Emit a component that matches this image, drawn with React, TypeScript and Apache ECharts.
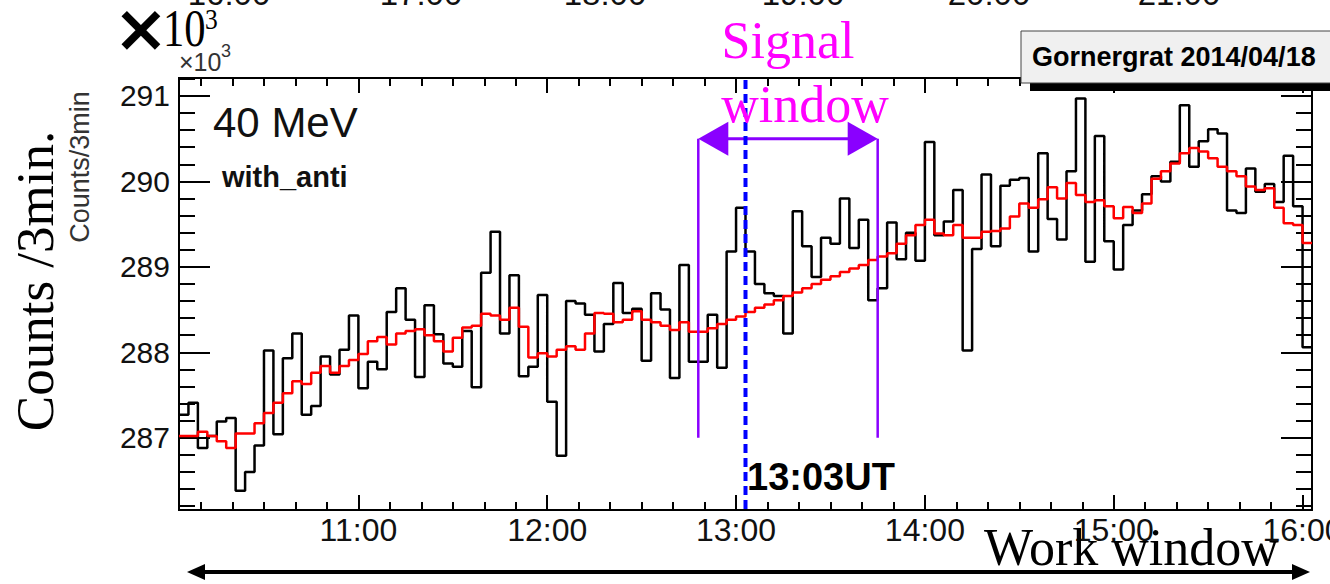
import React, { useEffect, useRef } from "react";
import * as echarts from "echarts";

// x: minutes after 10:00 UT, 3-minute bins starting at 10:03
const BIN_START_MIN = 3;
const BIN_WIDTH_MIN = 3;
const X_MIN = 3;
const X_MAX = 363;
// y: counts per 3 min, in units of 10^3
const Y_MIN = 286.154;
const Y_MAX = 291.21;

const COUNTS_K = [
  287.27, 287.41, 286.88, 287.02, 287.19, 287.23, 286.38, 286.60, 286.91, 288.02,
  287.04, 287.93, 288.22, 287.27, 287.37, 287.95, 287.74, 288.03, 288.43, 287.58,
  287.89, 287.80, 288.47, 288.75, 288.38, 287.71, 288.55, 288.21, 287.87, 287.83,
  288.25, 287.59, 288.93, 289.41, 288.22, 288.90, 287.72, 287.83, 288.67, 287.42,
  286.79, 288.60, 288.57, 288.44, 288.01, 288.33, 288.81, 288.46, 288.51, 287.90,
  288.69, 288.50, 287.70, 289.02, 287.89, 287.89, 288.44, 287.82, 289.18, 289.69,
  289.18, 288.80, 288.69, 288.66, 288.22, 289.65, 289.24, 288.88, 289.34, 289.27,
  289.80, 289.22, 289.55, 288.61, 288.75, 289.52, 289.09, 289.40, 289.07, 290.46,
  289.37, 289.53, 289.90, 288.02, 289.21, 290.08, 289.24, 289.95, 290.02, 290.04,
  289.18, 290.33, 289.56, 289.32, 290.12, 290.97, 289.06, 290.53, 289.30, 288.97,
  289.49, 289.66, 289.85, 290.06, 290.00, 290.23, 290.89, 290.17, 290.47, 290.61,
  290.56, 289.66, 289.63, 290.15, 289.88, 289.97, 289.76, 290.30, 289.71, 288.06,
];

const FIT_K = [
  287.02, 287.02, 287.07, 287.02, 286.96, 286.88, 287.05, 287.05, 287.17, 287.29,
  287.41, 287.52, 287.66, 287.63, 287.76, 287.84, 287.76, 287.84, 287.91, 287.98,
  288.13, 288.18, 288.09, 288.22, 288.25, 288.27, 288.20, 288.13, 288.01, 288.17,
  288.29, 288.31, 288.45, 288.43, 288.38, 288.52, 288.30, 287.94, 287.99, 287.95,
  288.03, 288.07, 288.03, 288.22, 288.46, 288.45, 288.35, 288.38, 288.48, 288.38,
  288.35, 288.31, 288.26, 288.35, 288.24, 288.24, 288.28, 288.33, 288.38, 288.42,
  288.47, 288.52, 288.56, 288.61, 288.66, 288.70, 288.75, 288.80, 288.85, 288.89,
  288.94, 288.98, 289.02, 289.08, 289.12, 289.16, 289.27, 289.37, 289.49, 289.55,
  289.39, 289.37, 289.49, 289.34, 289.34, 289.41, 289.42, 289.45, 289.59, 289.74,
  289.69, 289.79, 289.93, 289.80, 289.98, 289.84, 289.76, 289.78, 289.71, 289.57,
  289.70, 289.63, 289.74, 290.03, 290.12, 290.21, 290.33, 290.39, 290.35, 290.27,
  290.17, 290.12, 290.06, 289.94, 289.90, 289.92, 289.69, 289.51, 289.49, 289.28,
];

const Y_TICKS = [287, 288, 289, 290, 291];
const X_TICKS = [60, 120, 180, 240, 300, 360];
const TOP_PANEL_LABELS = ["16:00", "17:00", "18:00", "19:00", "20:00", "21:00"];
const SIGNAL_WINDOW_MIN = [168, 225];
const SIGNAL_ARROW_K = 290.5;
const SIGNAL_BOTTOM_K = 287.0;
const EVENT_MIN = 183;
const EVENT_LABEL = "13:03UT";
const STATION_LABEL = "Gornergrat 2014/04/18";
const ENERGY_LABEL = "40 MeV";
const MODE_LABEL = "with_anti";

const X_MINOR: number[] = [];
for (let m = 10; m <= 360; m += 10) if (m % 60 !== 0) X_MINOR.push(m);
const Y_MINOR: number[] = [];
for (let i = 1431; i <= 1456; i++) if (i % 5 !== 0) Y_MINOR.push(i / 5);

const fmtTime = (m: number) => {
  const h = 10 + Math.floor(m / 60);
  const mm = Math.round(m % 60);
  return `${h}:${String(mm).padStart(2, "0")}`;
};

const hist = (vals: number[]) => {
  const d = vals.map((v, i) => [BIN_START_MIN + i * BIN_WIDTH_MIN, v]);
  d.push([BIN_START_MIN + vals.length * BIN_WIDTH_MIN, vals[vals.length - 1]]);
  return d;
};

const SANS = '"Liberation Sans", Arial, sans-serif';
const SERIF = '"Liberation Serif", "Times New Roman", serif';

const txt = (
  text: string,
  x: number,
  y: number,
  font: string,
  fill: string,
  align = "left",
  vAlign = "middle",
  rotation = 0,
  scaleX = 1
) => ({
  type: "text",
  x,
  y,
  rotation,
  scaleX,
  z: 100,
  silent: true,
  style: { text, font, fill, align, verticalAlign: vAlign, textAlign: align, textVerticalAlign: vAlign },
});

export default function App() {
  const ref = useRef<HTMLDivElement>(null);

  useEffect(() => {
    if (!ref.current) return;
    const chart = echarts.init(ref.current, null, { renderer: "svg" });

    const xAxisDef = (pos: string, ticks: number[], len: number, labels: boolean) => ({
      type: "value",
      position: pos,
      min: X_MIN,
      max: X_MAX,
      axisLine: { show: true, onZero: false, lineStyle: { color: "#000", width: 2 } },
      axisTick: { show: true, inside: true, length: len, customValues: ticks, lineStyle: { color: "#000", width: 2 } },
      axisLabel: labels
        ? { show: true, customValues: ticks, formatter: fmtTime, fontSize: 32, fontFamily: SANS, color: "#111", margin: 4 }
        : { show: false },
      splitLine: { show: false },
      minorTick: { show: false },
    });
    const yAxisDef = (pos: string, ticks: number[], len: number, labels: boolean) => ({
      type: "value",
      position: pos,
      min: Y_MIN,
      max: Y_MAX,
      axisLine: { show: true, onZero: false, lineStyle: { color: "#000", width: 2 } },
      axisTick: { show: true, inside: true, length: len, customValues: ticks, lineStyle: { color: "#000", width: 2 } },
      axisLabel: labels
        ? {
            show: true,
            customValues: ticks,
            formatter: (v: number) => String(Math.round(v)),
            fontSize: 30,
            fontFamily: SANS,
            color: "#111",
            margin: 9,
          }
        : { show: false },
      splitLine: { show: false },
      minorTick: { show: false },
    });

    const purple = "#8a00ff";

    const graphics: any[] = [];
    const topX = [229, 421, 605, 803, 989, 1179];
    TOP_PANEL_LABELS.forEach((t, i) => graphics.push(txt(t, topX[i], 10, `33px ${SANS}`, "#111", "center", "bottom")));
    // big x10^3
    graphics.push(txt("×", 141, 28, `bold 66px "DejaVu Sans", ${SANS}`, "#000", "center", "middle"));
    graphics.push(txt("10", 163, 29, `52px ${SERIF}`, "#000", "left", "middle", 0, 0.82));
    graphics.push(txt("3", 205, 19, `30px ${SERIF}`, "#000", "left", "middle", 0, 0.85));
    // small x10^3
    graphics.push(txt("×10", 179, 61.5, `25px ${SANS}`, "#333", "left", "middle"));
    graphics.push(txt("3", 221, 51, `18px ${SANS}`, "#333", "left", "middle"));
    // signal window text
    graphics.push(txt("Signal", 788, 40.5, `52px ${SERIF}`, "#ff00ff", "center", "middle"));
    graphics.push(txt("window", 805, 104.5, `52px ${SERIF}`, "#ff00ff", "center", "middle"));
    // station box
    graphics.push({ type: "rect", z: 99, silent: true, shape: { x: 1030, y: 39, width: 330, height: 52 }, style: { fill: "#000" } });
    graphics.push({
      type: "rect",
      z: 99,
      silent: true,
      shape: { x: 1021, y: 31, width: 330, height: 52 },
      style: { fill: "#f0f0f0", stroke: "#444", lineWidth: 1 },
    });
    graphics.push(txt(STATION_LABEL, 1032, 57, `bold 27px ${SANS}`, "#000", "left", "middle"));
    // panel labels
    graphics.push(txt(ENERGY_LABEL, 213, 122.4, `42px ${SANS}`, "#111", "left", "middle"));
    graphics.push(txt(MODE_LABEL, 222, 177, `bold 29px ${SANS}`, "#111", "left", "middle"));
    graphics.push(txt(EVENT_LABEL, 747, 476.5, `bold 38px ${SANS}`, "#000", "left", "middle"));
    // axis titles
    graphics.push(txt("Counts /3min.", 35, 281, `53px ${SERIF}`, "#000", "center", "middle", Math.PI / 2));
    graphics.push(txt("Counts/3min", 80, 167, `27px ${SANS}`, "#333", "center", "middle", Math.PI / 2));
    // work window
    graphics.push(txt("Work window", 984, 547.5, `52px ${SERIF}`, "#000", "left", "middle"));
    graphics.push({ type: "line", z: 100, silent: true, shape: { x1: 200, y1: 572, x2: 1297, y2: 572 }, style: { stroke: "#000", lineWidth: 4 } });
    graphics.push({
      type: "polygon",
      z: 100,
      silent: true,
      shape: { points: [[187, 572], [205, 564], [205, 580]] },
      style: { fill: "#000" },
    });
    graphics.push({
      type: "polygon",
      z: 100,
      silent: true,
      shape: { points: [[1310, 572], [1292, 564], [1292, 580]] },
      style: { fill: "#000" },
    });

    chart.setOption({
      animation: false,
      backgroundColor: "#fff",
      grid: { left: 179, top: 78, width: 1133, height: 432, containLabel: false, outerBoundsMode: "none" },
      xAxis: [
        xAxisDef("bottom", X_TICKS, 15, true),
        xAxisDef("bottom", X_MINOR, 8, false),
        xAxisDef("top", X_TICKS, 15, false),
        xAxisDef("top", X_MINOR, 8, false),
      ],
      yAxis: [
        yAxisDef("left", Y_TICKS, 31, true),
        yAxisDef("left", Y_MINOR, 16, false),
        yAxisDef("right", Y_TICKS, 31, false),
        yAxisDef("right", Y_MINOR, 16, false),
      ],
      series: [
        {
          type: "line",
          xAxisIndex: 0,
          yAxisIndex: 0,
          step: "end",
          data: hist(COUNTS_K),
          showSymbol: false,
          symbol: "none",
          silent: true,
          z: 3,
          lineStyle: { color: "#000", width: 2.5 },
        },
        {
          type: "line",
          xAxisIndex: 0,
          yAxisIndex: 0,
          step: "end",
          data: hist(FIT_K),
          showSymbol: false,
          symbol: "none",
          silent: true,
          z: 4,
          lineStyle: { color: "#ff0000", width: 2.5 },
        },
        {
          type: "custom",
          xAxisIndex: 0,
          yAxisIndex: 0,
          clip: false,
          silent: true,
          z: 5,
          data: [[EVENT_MIN, SIGNAL_ARROW_K]],
          renderItem: (_params: any, api: any) => {
            const [x0, yTop] = api.coord([SIGNAL_WINDOW_MIN[0], SIGNAL_ARROW_K]);
            const [x1] = api.coord([SIGNAL_WINDOW_MIN[1], SIGNAL_ARROW_K]);
            const yBot = api.coord([SIGNAL_WINDOW_MIN[0], SIGNAL_BOTTOM_K])[1];
            const [xe, yEtop] = api.coord([EVENT_MIN, Y_MAX]);
            const yEbot = api.coord([EVENT_MIN, Y_MIN])[1];
            return {
              type: "group",
              children: [
                { type: "line", shape: { x1: x0, y1: yTop, x2: x0, y2: yBot }, style: { stroke: purple, lineWidth: 2.5 } },
                { type: "line", shape: { x1: x1, y1: yTop, x2: x1, y2: yBot }, style: { stroke: purple, lineWidth: 2.5 } },
                { type: "line", shape: { x1: x0 + 20, y1: yTop, x2: x1 - 20, y2: yTop }, style: { stroke: purple, lineWidth: 3 } },
                {
                  type: "polygon",
                  shape: { points: [[x0, yTop], [x0 + 30, yTop - 17], [x0 + 30, yTop + 17]] },
                  style: { fill: purple },
                },
                {
                  type: "polygon",
                  shape: { points: [[x1, yTop], [x1 - 30, yTop - 17], [x1 - 30, yTop + 17]] },
                  style: { fill: purple },
                },
                {
                  type: "line",
                  shape: { x1: xe, y1: yEtop + 2, x2: xe, y2: yEbot + 2 },
                  style: { stroke: "#0000ff", lineWidth: 4, lineDash: [9, 5] },
                },
              ],
            };
          },
        },
      ],
      graphic: { elements: graphics },
    });

    return () => chart.dispose();
  }, []);

  return <div ref={ref} style={{ position: "absolute", left: 0, top: 0, width: 1330, height: 584 }} />;
}
